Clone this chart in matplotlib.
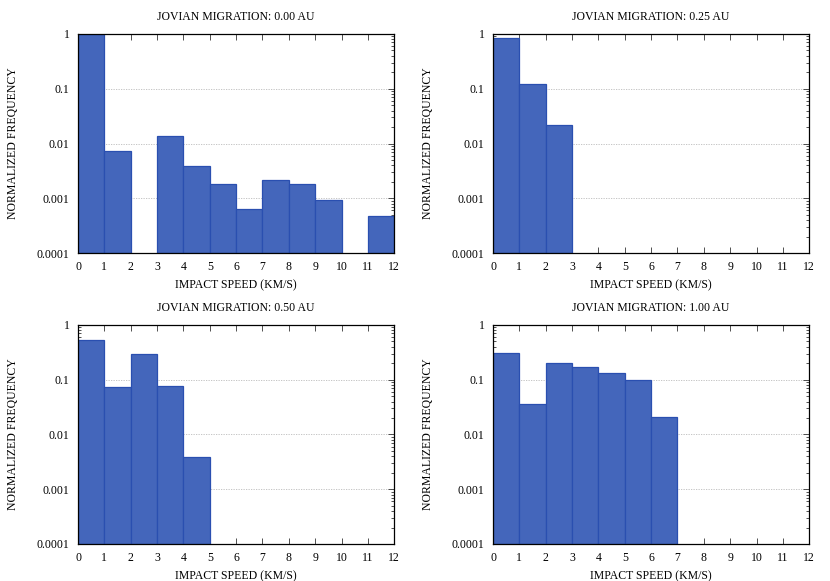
import matplotlib
matplotlib.use('Agg')
import matplotlib.pyplot as plt
from matplotlib.ticker import FixedLocator, FixedFormatter, LogLocator, NullFormatter
import numpy as np

# Impact speed bins (km/s), 1 km/s wide
bin_edges = np.arange(0, 13)

# Normalized frequency per bin, one list per Jovian migration distance
freq_000 = [1.0, 0.0071, 0, 0.0134, 0.0038, 0.0017, 0.00054, 0.0021, 0.00174, 0.00084, 0, 0.00038]
freq_025 = [0.83, 0.122, 0.022, 0, 0, 0, 0, 0, 0, 0, 0, 0]
freq_050 = [0.53, 0.073, 0.29, 0.078, 0.0038, 0, 0, 0, 0, 0, 0, 0]
freq_100 = [0.31, 0.036, 0.204, 0.172, 0.132, 0.099, 0.0207, 0, 0, 0, 0, 0]

titles = ['JOVIAN MIGRATION: 0.00 AU', 'JOVIAN MIGRATION: 0.25 AU',
          'JOVIAN MIGRATION: 0.50 AU', 'JOVIAN MIGRATION: 1.00 AU']
y_ticks = [1e-4, 1e-3, 1e-2, 1e-1, 1]
y_labels = ['0.0001', '0.001', '0.01', '0.1', '1']

plt.rcParams['font.family'] = ['Liberation Serif', 'DejaVu Serif']
plt.rcParams['font.size'] = 8.5

BAR_COLOR = '#4466bb'
EDGE_COLOR = '#2a4fb0'


def draw_panel(ax, freqs, title):
    freqs = np.asarray(freqs, dtype=float)
    left = bin_edges[:-1]
    mask = freqs > 0
    ax.bar(left[mask], freqs[mask], width=1.0, align='edge', bottom=1e-4,
           color=BAR_COLOR, edgecolor=EDGE_COLOR, linewidth=0.9, zorder=2)

    ax.set_yscale('log')
    ax.set_ylim(1e-4, 1)
    ax.set_xlim(0, 12)

    ax.yaxis.set_major_locator(FixedLocator(y_ticks))
    ax.yaxis.set_major_formatter(FixedFormatter(y_labels))
    ax.yaxis.set_minor_locator(LogLocator(base=10, subs=np.arange(2, 10)))
    ax.yaxis.set_minor_formatter(NullFormatter())
    ax.set_xticks(bin_edges)

    ax.tick_params(which='both', direction='in', top=True, right=True,
                   width=0.6, colors='#333333', labelcolor='black')
    ax.tick_params(which='major', length=4)
    ax.tick_params(which='minor', length=2)
    ax.tick_params(axis='x', pad=5.5)
    ax.tick_params(axis='y', pad=6)

    ax.grid(axis='y', which='major', linestyle=(0, (1.5, 1.5)), color='#bbbbbb',
            linewidth=0.6, zorder=0)
    ax.set_axisbelow(True)
    for sp in ax.spines.values():
        sp.set_linewidth(0.9)
        sp.set_zorder(3)

    ax.set_title(title, fontsize=8.5, pad=10)
    ax.set_xlabel('IMPACT SPEED (KM/S)', labelpad=4.5)
    ax.set_ylabel('NORMALIZED FREQUENCY', labelpad=13)


fig = plt.figure(figsize=(8.3, 5.81), dpi=100)
w, h = 0.381, 0.377
positions = [(0.094, 0.5645), (0.594, 0.5645), (0.094, 0.0637), (0.594, 0.0637)]
all_freqs = [freq_000, freq_025, freq_050, freq_100]

for pos, freqs, title in zip(positions, all_freqs, titles):
    ax = fig.add_axes([pos[0], pos[1], w, h])
    draw_panel(ax, freqs, title)

fig.savefig('out.png', dpi=100)
